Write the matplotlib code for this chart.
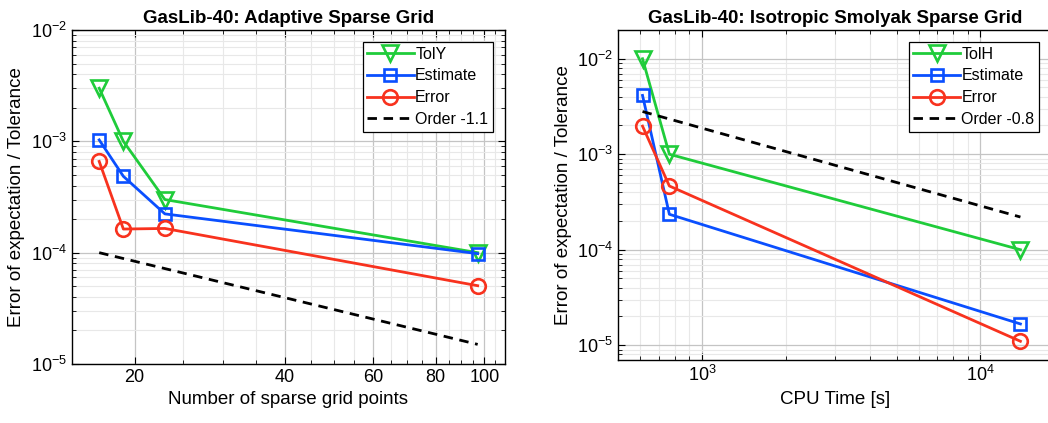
import matplotlib
matplotlib.use("Agg")
from matplotlib import pyplot as plt
from matplotlib.ticker import FixedLocator, NullFormatter, LogLocator, LogFormatterSciNotation
import numpy as np

plt.rcParams['font.family'] = ['Liberation Sans', 'DejaVu Sans']
plt.rcParams['mathtext.fontset'] = 'custom'
plt.rcParams['mathtext.rm'] = 'Liberation Sans'
plt.rcParams['mathtext.it'] = 'Liberation Sans'

# left panel: adaptive sparse grid
adapt_points = [17, 19, 23, 97]
adapt_tol = [3.0e-3, 1.0e-3, 3.0e-4, 1.0e-4]
adapt_est = [1.03e-3, 4.85e-4, 2.23e-4, 9.8e-5]
adapt_err = [6.6e-4, 1.63e-4, 1.65e-4, 5.05e-5]
adapt_order_x = [17, 97]
adapt_order_y = [1.0e-4, 1.5e-5]

# right panel: isotropic smolyak
iso_time = [611, 763, 13940]
iso_tol = [1.0e-2, 1.0e-3, 1.0e-4]
iso_est = [4.13e-3, 2.35e-4, 1.67e-5]
iso_err = [1.97e-3, 4.65e-4, 1.1e-5]
iso_order_x = [611, 13940]
iso_order_y = [2.8e-3, 2.2e-4]

green = '#1fcc3a'
blue = '#0a4fff'
red = '#f8321e'

fig = plt.figure(figsize=(10.48, 4.23), dpi=100)
ax1 = fig.add_axes([72/1048, 59/423, 433/1048, 334/423])
ax2 = fig.add_axes([618.3/1048, 63/423, 433/1048, 330/423])


def style(ax):
    ax.grid(True, which='major', color='#c4c4c4', linewidth=0.9)
    ax.grid(True, which='minor', color='#e8e8e8', linewidth=0.8)
    ax.set_axisbelow(True)
    ax.tick_params(which='both', direction='in', top=True, right=True, labelsize=13)
    ax.tick_params(which='major', length=5, width=0.8)
    ax.tick_params(which='minor', length=3, width=0.6)
    for s in ax.spines.values():
        s.set_linewidth(1.0)


def draw(ax, x, tol, est, err, ox, oy, tol_name, order_name):
    ax.plot(x, tol, color=green, lw=2.0, marker='v', ms=12, mfc='none',
            mew=1.9, label=tol_name)
    ax.plot(x, est, color=blue, lw=2.0, marker='s', ms=8.5, mfc='none',
            mew=1.9, label='Estimate')
    ax.plot(x, err, color=red, lw=2.0, marker='o', ms=10.5, mfc='none',
            mew=1.9, label='Error')
    ax.plot(ox, oy, color='k', lw=2.0, linestyle=(0, (3.4, 2.4)), label=order_name)
    leg = ax.legend(loc='upper right', fontsize=11.5, handlelength=2.9,
                    handletextpad=0.1, borderpad=0.3, labelspacing=0.42,
                    borderaxespad=0.75, fancybox=False, framealpha=1)
    leg.get_frame().set_edgecolor('black')
    leg.get_frame().set_linewidth(0.9)


draw(ax1, adapt_points, adapt_tol, adapt_est, adapt_err, adapt_order_x, adapt_order_y,
     'TolY', 'Order -1.1')
ax1.set_xscale('log')
ax1.set_yscale('log')
ax1.set_xlim(15, 110)
ax1.set_ylim(1e-5, 1e-2)
ax1.xaxis.set_major_locator(FixedLocator([20, 40, 60, 80, 100]))
ax1.xaxis.set_minor_locator(FixedLocator([25, 30, 35, 45, 50, 55, 65, 70, 75, 85, 90, 95, 105]))
ax1.xaxis.set_major_formatter(matplotlib.ticker.FuncFormatter(lambda v, p: '%d' % v))
ax1.xaxis.set_minor_formatter(NullFormatter())
ax1.yaxis.set_major_locator(LogLocator(base=10, numticks=10))
ax1.yaxis.set_minor_locator(LogLocator(base=10, subs=np.arange(2, 10), numticks=10))
ax1.yaxis.set_major_formatter(LogFormatterSciNotation())
ax1.yaxis.set_minor_formatter(NullFormatter())
style(ax1)
ax1.set_title('GasLib-40: Adaptive Sparse Grid', fontsize=13.5, fontweight='bold', pad=5)
ax1.set_xlabel('Number of sparse grid points', fontsize=13.5)
ax1.set_ylabel('Error of expectation / Tolerance', fontsize=13.5)

draw(ax2, iso_time, iso_tol, iso_est, iso_err, iso_order_x, iso_order_y,
     'TolH', 'Order -0.8')
ax2.set_xscale('log')
ax2.set_yscale('log')
ax2.set_xlim(500, 18000)
ax2.set_ylim(7e-6, 2e-2)
ax2.xaxis.set_major_locator(LogLocator(base=10, numticks=10))
ax2.xaxis.set_minor_locator(LogLocator(base=10, subs=np.arange(2, 10), numticks=10))
ax2.xaxis.set_minor_formatter(NullFormatter())
ax2.yaxis.set_major_locator(LogLocator(base=10, numticks=10))
ax2.yaxis.set_minor_locator(LogLocator(base=10, subs=np.arange(2, 10), numticks=10))
ax2.yaxis.set_minor_formatter(NullFormatter())
style(ax2)
ax2.tick_params(which='both', right=False)
ax2.spines['right'].set_visible(False)
ax2.set_title('GasLib-40: Isotropic Smolyak Sparse Grid', fontsize=13.5, fontweight='bold', pad=5)
ax2.set_xlabel('CPU Time [s]', fontsize=13.5)
ax2.set_ylabel('Error of expectation / Tolerance', fontsize=13.5)

fig.savefig('out.png', dpi=100)
